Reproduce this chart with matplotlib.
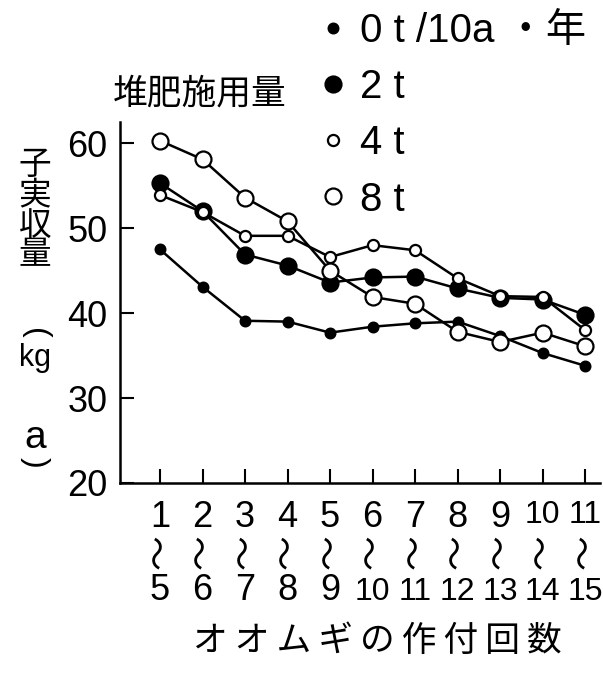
import matplotlib
matplotlib.use("Agg")
import matplotlib.pyplot as plt
from matplotlib.lines import Line2D

plt.rcParams['font.family'] = ['Liberation Sans', 'DejaVu Sans', 'Noto Sans CJK JP']

# 作付回数 (range start / end) and yields (kg/a) per compost rate
start = [1, 2, 3, 4, 5, 6, 7, 8, 9, 10, 11]
end = [5, 6, 7, 8, 9, 10, 11, 12, 13, 14, 15]
t0 = [47.5, 43.1, 39.1, 39.0, 37.7, 38.4, 38.8, 39.0, 37.3, 35.3, 33.8]
t2 = [55.3, 52.0, 46.9, 45.6, 43.6, 44.2, 44.3, 42.9, 41.8, 41.6, 39.8]
t4 = [53.9, 51.9, 49.1, 49.1, 46.6, 48.0, 47.4, 44.1, 42.0, 41.9, 38.0]
t8 = [60.3, 58.1, 53.6, 50.8, 45.0, 41.9, 41.1, 37.8, 36.6, 37.7, 36.1]
labels = ['0 t /10a ・年', '2 t', '4 t', '8 t']
yticks = [20, 30, 40, 50, 60]

W, H = 603, 674
fig = plt.figure(figsize=(W / 100, H / 100), dpi=100)
ax = fig.add_axes([120 / W, 1 - 483 / H, 480 / W, 361 / H])

styles = [
    dict(ms=7, mfc='black'),
    dict(ms=11.5, mfc='black'),
    dict(ms=8, mfc='white'),
    dict(ms=11.5, mfc='white'),
]
for ys, st in zip([t0, t2, t4, t8], styles):
    ax.plot(start, ys, color='black', lw=1.8, marker='o', mec='black', mew=1.6, **st)

ax.set_xlim(0.059, 11.35)
ax.set_ylim(20, 62.5)
ax.set_yticks(yticks)
ax.set_xticks(start)
ax.set_xticklabels([str(a) for a in start])
ax.tick_params(direction='in', length=10, width=1.5, labelsize=26, pad=9)
ax.tick_params(axis='x', pad=12)
for lab in ax.get_xticklabels():
    if len(lab.get_text()) > 1:
        lab.set_fontsize(23)
for s in ['top', 'right']:
    ax.spines[s].set_visible(False)
for s in ['left', 'bottom']:
    ax.spines[s].set_linewidth(1.8)

# vertical wave dash and end of each range under the tick labels
xt = ax.get_xaxis_transform()
for a, b in zip(start, end):
    ax.text(a, -0.191, '〜', transform=xt, rotation=90, ha='center', va='center',
            fontsize=25, family=['Noto Sans CJK JP'])
    ax.text(a, -0.324, str(b), transform=xt, ha='center', va='baseline',
            fontsize=26 if b < 10 else 23)

handles = [Line2D([], [], ls='none', marker='o', color='black', mec='black', mew=1.6, **st)
           for st in styles]
fig.legend(handles, labels, loc='upper left', bbox_to_anchor=(302 / W, 1 + 8 / H),
           frameon=False, fontsize=29, borderpad=0, handlelength=0.55,
           handletextpad=0.4, labelspacing=0.45)


def ftext(px, py, s, **kw):
    fig.text(px / W, 1 - py / H, s, ha='center', va='center', **kw)


cjk = ['Noto Sans CJK JP', 'DejaVu Sans']
ftext(200, 94, '堆肥施用量', fontsize=25, family=cjk)
ftext(377, 641, '\u2009'.join('オオムギの作付回数'), fontsize=25, family=cjk)

for ch, py in zip('子実収量', [165, 196, 226, 255]):
    ftext(35, py, ch, fontsize=23.5, family=cjk)
# parentheses turned for vertical writing
ftext(35, 333, '(', fontsize=23, rotation=-90)
ftext(35, 358, 'kg', fontsize=22)
ftext(35, 438, 'a', fontsize=28)
ftext(35, 462, ')', fontsize=23, rotation=-90)

fig.savefig('out.png', dpi=100)
